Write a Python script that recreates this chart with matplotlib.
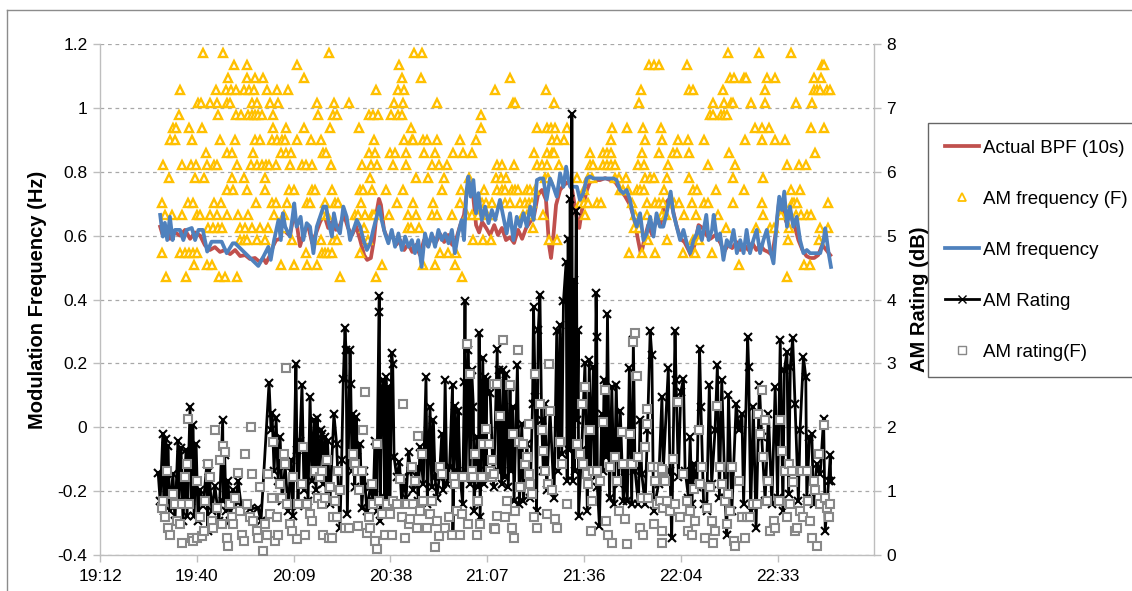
import matplotlib
matplotlib.use('Agg')
import matplotlib.pyplot as plt
from matplotlib.lines import Line2D

plt.rcParams['font.family'] = ['Liberation Sans', 'DejaVu Sans']

# ---------------- data (time in minutes after 19:12) ----------------
tick_labels = ["19:12", "19:40", "20:09", "20:38", "21:07", "21:36", "22:04", "22:33"]
tick_minutes = [0, 28.8, 57.6, 86.4, 115.2, 144.0, 172.8, 201.6]

# Actual BPF (10s) - red line
red_t = [17.9,18.7,19.6,20.8,22.3,23.8,25.3,26.8,28.3,29.8,31.2,32.7,34.2,35.7,37.2,38.7,40.2,41.7,43.2,44.6,
         46.1,47.6,48.5,49.4,50.6,51.5,52.4,53.6,54.5,55.4,56.5,57.7,58.6,59.5,60.7,61.9,63.1,64.3,65.5,
         66.7,67.9,69.0,70.2,71.4,72.6,73.8,75.0,76.2,77.4,78.6,79.5,80.6,81.5,82.4,83.0,83.6,84.5,85.7,86.9,
         88.1,89.3,90.5,91.7,92.9,94.0,95.2,96.4,97.6,98.8,100.0,101.2,102.4,103.6,104.8,105.9,107.1,108.3,109.2,110.1,
         111.0,111.9,112.8,113.7,114.9,116.1,117.3,
         118.4,119.6,120.8,122.0,123.2,124.4,125.6,126.8,128.0,129.2,130.3,131.5,132.7,133.6,134.2,134.8,135.7,136.9,138.1,139.3,
         140.5,141.7,142.6,143.4,144.9,145.8,147.3,148.8,150.3,151.8,153.3,154.8,156.2,157.7,158.9,160.1,161.0,161.9,163.1,164.3,
         165.5,166.7,
         167.9,169.1,170.3,171.5,172.7,173.9,175.1,175.9,176.9,178.1,179.3,180.4,181.6,183.1,184.6,185.7,186.9,188.1,189.4,190.5,
         191.7,192.9,194.1,195.3,196.4,197.6,198.8,200.0,201.2,202.1,203.0,204.2,205.4,206.6,207.8,209.0,210.2,211.3,212.5,213.7,
         214.9,216.1,217.3]
red_f = [0.628,0.60,0.624,0.59,0.61,0.60,0.618,0.59,0.61,0.60,0.57,0.555,0.564,0.549,0.555,0.542,0.555,0.536,0.539,0.527,
         0.53,0.517,0.53,0.514,0.539,0.567,0.586,0.59,0.633,0.61,0.60,0.665,0.633,0.567,0.61,0.633,0.577,0.608,0.643,
         0.665,0.624,0.643,0.618,0.633,0.665,0.624,0.602,0.63,0.586,0.539,0.524,0.53,0.586,0.68,0.715,0.696,0.618,0.586,0.602,
         0.571,0.586,0.555,0.574,0.549,0.571,0.539,0.586,0.567,0.60,0.58,0.605,0.58,0.602,0.571,0.586,0.63,0.665,0.743,0.759,
         0.727,0.633,0.61,0.643,0.624,0.602,0.633,
         0.602,0.624,0.586,0.595,0.577,0.618,0.59,0.624,0.643,0.665,0.727,0.743,0.712,0.571,0.53,0.586,0.696,0.743,0.759,0.768,
         0.743,0.665,0.624,0.68,0.743,0.768,0.774,0.774,0.78,0.774,0.768,0.743,0.724,0.696,0.655,0.586,0.539,0.586,0.633,0.602,
         0.649,0.633,
         0.696,0.712,0.687,0.633,0.59,0.58,0.555,0.536,0.571,0.633,0.624,0.602,0.59,0.602,0.577,0.549,0.571,0.561,0.58,0.555,
         0.571,0.555,0.577,0.555,0.571,0.555,0.549,0.539,0.618,0.712,0.68,0.643,0.665,0.633,0.586,0.555,0.536,0.53,0.53,0.539,
         0.571,0.555,0.539]

# AM frequency - blue line
blue_t = [17.9,18.7,19.3,20.0,20.8,21.6,22.3,23.8,24.8,25.8,27.3,28.3,29.3,30.6,31.2,31.9,33.2,36.2,37.7,39.5,
          40.2,47.1,48.6,50.1,50.8,51.8,53.1,53.8,54.4,55.1,56.5,57.3,57.8,58.5,59.7,60.5,61.5,62.5,63.5,64.5,
          65.5,66.5,
          67.3,67.9,69.0,69.6,70.4,71.4,72.4,73.4,74.4,75.4,76.4,77.4,78.4,79.4,80.4,81.3,82.3,83.1,83.8,84.8,
          85.8,86.8,87.8,88.8,89.8,90.8,91.8,92.8,93.7,94.7,95.7,96.7,97.7,98.7,99.7,100.7,101.7,102.7,103.7,104.7,
          105.6,106.6,107.6,108.3,109.1,109.6,110.3,111.1,111.9,112.6,113.6,114.6,115.6,116.6,117.6,
          119.0,120.0,121.0,122.0,123.0,124.0,125.0,126.0,127.0,128.0,129.0,130.0,130.9,131.9,132.9,133.9,134.9,135.9,136.9,137.9,
          138.7,139.4,139.9,141.9,142.8,143.8,144.8,145.8,146.8,148.8,150.8,152.8,153.7,154.7,155.7,156.7,157.7,158.7,159.7,160.7,
          161.7,162.7,163.7,164.7,165.6,166.6,
          167.6,168.6,169.8,170.6,171.6,172.6,173.6,174.6,175.6,176.6,177.6,178.1,179.1,180.4,181.1,182.1,182.6,183.6,184.5,185.5,
          186.5,187.5,188.5,189.5,190.5,191.5,192.4,193.4,194.4,195.4,196.4,197.4,198.4,199.4,200.4,201.4,202.1,202.9,203.6,204.4,
          205.3,206.3,207.3,208.3,209.3,210.3,211.3,214.3,215.3,215.8,216.8,217.5]
blue_f = [0.665,0.597,0.640,0.586,0.659,0.586,0.618,0.618,0.586,0.618,0.624,0.586,0.618,0.618,0.586,0.550,0.581,0.581,0.545,0.576,
          0.576,0.505,0.534,0.565,0.524,0.586,0.649,0.586,0.670,0.628,0.597,0.659,0.701,0.628,0.659,0.586,0.639,0.628,0.545,0.628,
          0.659,0.691,
          0.691,0.649,0.597,0.670,0.628,0.607,0.691,0.659,0.586,0.618,0.649,0.628,0.586,0.555,0.576,0.618,0.659,0.691,0.649,0.607,
          0.576,0.618,0.565,0.607,0.555,0.597,0.565,0.586,0.545,0.586,0.502,0.607,0.565,0.607,0.565,0.618,0.586,0.607,0.576,0.618,
          0.545,0.607,0.649,0.586,0.743,0.785,0.722,0.774,0.670,0.733,0.649,0.691,0.639,0.680,0.649,
          0.712,0.659,0.607,0.670,0.586,0.659,0.628,0.670,0.628,0.691,0.649,0.774,0.779,0.779,0.712,0.779,0.753,0.722,0.795,0.753,
          0.816,0.774,0.753,0.753,0.712,0.733,0.779,0.785,0.779,0.779,0.779,0.779,0.774,0.743,0.733,0.743,0.712,0.659,0.628,0.670,
          0.586,0.607,0.659,0.597,0.670,0.628,
          0.628,0.670,0.738,0.670,0.628,0.586,0.618,0.576,0.545,0.586,0.607,0.628,0.586,0.665,0.586,0.618,0.665,0.586,0.607,0.524,
          0.586,0.565,0.618,0.545,0.586,0.545,0.618,0.545,0.586,0.618,0.545,0.586,0.618,0.555,0.513,0.649,0.722,0.680,0.738,0.628,
          0.691,0.628,0.659,0.586,0.545,0.555,0.545,0.545,0.586,0.623,0.545,0.502]

# AM frequency (F) - triangles, one list of times per frequency level
tri_levels = [1.172, 1.133, 1.094, 1.055, 1.016, 0.977, 0.938, 0.898, 0.859, 0.820,
              0.781, 0.742, 0.703, 0.664, 0.625, 0.586, 0.547, 0.508, 0.469]
tri_times = [
    [30.7,36.7,68.2,93.5,95.7,187.0,196.1,205.6],
    [39.9,43.8,58.7,89.0,163.5,164.9,166.4,174.8,214.8,215.5],
    [38.2,43.7,46.1,48.4,60.7,89.8,95.5,122.0,187.5,188.7,191.5,192.3,198.4,200.7,212.5,214.5],
    [23.8,34.4,37.4,38.9,40.4,42.9,44.3,45.8,49.6,52.8,56.0,82.1,88.8,90.5,117.4,132.7,160.9,175.3,176.3,185.5,
     197.9,212.3,213.3,214.3,216.3,217.3],
    [29.3,30.0,32.7,34.7,37.7,38.7,45.3,46.8,50.6,53.1,64.7,69.6,74.2,87.5,90.3,100.2,122.8,123.5,135.2,160.4,
     182.5,185.7,187.7,188.3,193.7,197.9,207.1,212.0],
    [23.5,35.2,40.5,41.9,44.1,45.2,46.1,47.1,48.1,51.6,64.8,69.3,70.4,79.9,81.3,82.8,86.5,88.8,89.8,113.4,
     181.5,182.5,184.8,185.8,186.5],
    [21.8,22.6,26.5,30.4,51.6,55.3,60.7,68.5,77.1,92.6,113.4,130.0,133.1,134.1,135.4,138.9,152.3,156.8,161.5,166.8,
     194.9,197.1,199.2,211.6,215.3],
    [20.8,22.3,27.5,35.7,40.2,46.1,47.6,51.1,52.6,54.1,55.1,58.5,62.7,65.8,81.5,90.5,92.8,93.2,96.2,97.2,
     100.2,107.1,111.9,134.6,135.9,138.1,152.0,162.2,167.3,172.1,175.1,179.8,192.0,197.1,200.9,203.9],
    [31.5,37.7,39.2,45.6,53.8,55.3,56.8,66.3,67.3,79.9,81.8,86.3,87.8,91.0,96.5,99.7,105.1,107.9,110.6,129.0,
     133.1,134.4,135.1,145.8,149.8,151.0,152.0,161.2,166.2,170.6,171.6,175.3,187.3,212.8],
    [18.8,24.5,27.0,28.5,31.9,33.9,34.9,40.9,44.9,46.8,48.3,49.3,50.3,52.3,56.5,60.2,61.2,63.2,68.8,78.1,
     80.6,82.5,87.3,91.0,98.9,100.9,103.2,118.1,119.6,123.3,130.1,131.5,133.1,136.7,145.8,146.8,149.8,150.8,152.0,153.3,
     160.2,162.0,169.1,180.9,188.8,204.5,208.1,210.1],
    [20.5,28.3,31.0,39.2,42.7,49.1,80.4,94.0,97.7,102.4,109.8,117.9,119.3,120.7,132.4,133.4,142.0,145.3,146.3,153.3,
     154.3,156.5,162.2,163.7,164.7,168.8,175.4,188.3,197.4],
    [37.9,39.7,43.7,49.1,56.3,57.7,63.2,64.0,69.0,77.4,78.4,80.9,85.1,90.1,101.7,107.3,114.3,118.1,119.6,120.5,
     122.5,123.5,124.5,127.0,128.0,129.5,144.1,154.8,155.7,157.2,159.7,160.7,161.9,167.9,176.4,177.6,183.3,191.7,205.6,208.3],
    [18.4,26.3,27.6,33.9,35.9,46.4,51.3,52.3,55.7,61.5,62.5,67.0,69.9,70.9,77.6,88.3,93.2,99.2,107.1,113.6,
     114.9,116.7,120.5,122.0,125.0,126.5,127.5,128.5,142.9,144.1,145.3,147.8,149.0,158.2,162.7,165.2,166.2,167.4,170.8,172.4,
     176.1,179.8,181.0,188.3,196.9,205.9,206.6,207.3,216.7],
    [19.3,21.3,24.3,28.8,29.8,32.7,34.7,37.7,41.2,44.1,51.8,54.8,66.5,67.6,75.9,76.9,78.9,80.9,81.5,86.1,
     91.5,94.0,98.7,100.2,104.7,109.1,110.6,112.6,115.1,116.6,126.0,127.2,128.2,131.8,144.3,159.2,162.7,167.2,168.4,173.8,
     177.4,183.8,197.2,202.7,207.0,208.6,210.3,211.5],
    [32.2,33.7,35.2,36.2,41.7,43.2,45.2,47.6,50.1,54.8,78.7,91.5,92.5,94.9,128.7,159.0,160.4,186.2,195.2,199.4,
     200.6,205.1,214.3,216.7],
    [41.7,42.7,43.7,46.6,49.1,57.1,65.7,69.4,70.6,79.6,110.9,113.9,116.4,133.7,135.9,163.2,168.7,176.4,178.1,204.7,213.8],
    [18.4,23.8,25.3,26.6,27.8,29.0,61.2,66.0,67.0,67.9,69.0,77.4,101.2,103.5,105.9,157.4,161.2,165.2,173.6,176.9,182.0],
    [28.0,31.8,33.4,53.8,57.7,61.5,64.7,83.8,96.0,99.7,105.7,190.2,209.6,211.3],
    [19.6,25.5,35.4,37.2,40.9,71.4,82.1,107.6,204.4],
]

# AM Rating - black line (right axis, dB)
rat_t = [17.3,17.9,18.7,19.0,19.6,19.9,20.2,20.8,21.7,22.3,
         23.2,23.5,24.1,24.7,25.6,25.9,26.8,27.1,27.7,28.0,
         28.6,29.2,29.8,30.7,31.8,32.0,32.4,33.3,34.2,35.4,
         36.5,36.7,37.1,37.5,38.1,38.7,39.6,40.2,41.1,42.0,
         44.6,47.0,47.9,50.3,50.9,51.2,51.8,52.4,53.0,53.6,
         54.2,55.1,56.0,56.8,57.4,58.3,58.6,58.9,59.5,60.1,
         60.7,61.3,61.9,62.5,63.1,63.7,64.3,64.6,65.2,65.8,
         66.0,66.5,67.0,67.3,67.7,68.4,69.6,70.4,71.4,71.9,
         72.4,72.9,73.2,73.6,74.4,74.6,75.0,75.4,75.8,76.2,
         76.6,77.4,77.9,78.6,79.4,80.4,81.3,81.8,82.3,83.0,
         83.1,83.4,83.8,84.3,84.7,85.1,85.5,85.8,86.3,86.8,
         87.1,87.5,88.3,89.1,89.8,90.3,91.1,91.8,92.4,93.2,
         94.2,94.7,95.2,96.2,97.0,97.4,98.2,98.7,99.2,99.7,
         100.2,101.0,101.7,102.2,102.7,103.2,104.0,104.9,105.0,105.6,
         106.3,106.6,107.1,107.9,108.4,108.6,108.9,109.6,110.1,110.6,
         111.1,111.3,112.1,112.6,112.8,113.1,113.9,114.3,114.6,114.9,
         115.1,
         116.1,117.1,118.2,118.5,118.8,119.5,120.0,120.4,120.8,121.5,
         122.0,122.4,122.8,123.2,124.2,124.8,125.5,126.0,127.0,128.0,
         128.7,129.0,129.5,129.9,130.4,130.9,131.4,131.9,132.4,132.9,
         133.9,135.1,135.9,136.4,136.9,137.4,137.9,138.7,139.0,139.3,
         139.6,139.9,140.2,140.4,140.6,140.9,141.2,141.7,142.0,142.3,
         142.4,143.3,144.3,145.0,145.6,146.0,146.8,147.2,147.6,147.8,
         148.0,148.6,149.3,149.6,150.0,150.6,151.0,151.6,152.3,153.0,
         153.6,154.3,154.8,155.7,156.2,156.9,157.5,158.2,158.7,159.2,
         160.2,160.7,161.2,162.2,162.9,163.7,164.2,164.7,166.2,167.2,
         167.6,
         169.1,169.6,170.1,171.1,171.4,172.1,172.8,173.6,174.1,175.1,
         175.6,176.1,176.6,177.6,178.4,178.8,179.6,180.5,181.3,182.0,
         183.0,183.7,184.3,185.0,186.0,186.5,187.0,188.0,189.3,190.0,
         191.0,191.5,192.7,193.0,193.6,194.4,195.2,196.2,196.9,197.9,
         198.9,199.9,200.9,201.6,202.4,203.2,203.6,204.4,204.9,205.4,
         206.1,206.8,207.8,208.3,209.3,210.0,210.3,211.1,211.8,212.3,
         213.3,214.3,215.3,215.8,216.8,217.3,217.4]
rat_v = [1.29,0.85,1.90,0.69,1.82,0.85,1.71,0.69,1.27,0.53,
         1.79,0.85,1.68,0.53,1.64,0.61,2.31,0.85,2.03,0.61,
         1.74,0.53,1.01,0.77,1.43,0.38,1.32,0.69,1.08,0.53,
         2.11,0.85,1.56,0.69,1.16,0.53,1.01,0.77,1.16,0.77,
         0.72,0.74,0.53,2.69,1.95,2.22,1.32,2.14,1.16,1.84,
         0.85,1.40,0.69,1.48,0.61,2.99,1.64,0.77,1.79,2.66,
         1.01,1.64,0.85,2.47,1.16,2.11,1.01,2.15,1.32,1.95,
         1.90,1.11,1.84,0.90,1.79,0.80,2.21,1.74,0.43,1.48,
         2.76,3.55,3.21,0.64,3.21,2.68,1.32,2.21,1.06,2.16,
         1.53,1.74,0.74,1.32,0.69,1.06,0.85,1.79,0.69,3.81,
         4.05,0.53,2.58,2.74,0.90,2.79,0.80,2.63,0.85,3.16,
         2.99,1.53,1.22,1.45,0.80,1.22,0.90,1.61,1.32,1.01,
         1.37,0.85,1.69,1.11,2.78,0.80,2.32,1.06,2.11,1.22,
         0.90,1.22,1.90,1.01,2.74,1.11,1.37,2.66,0.32,2.34,
         1.32,2.26,1.27,0.80,2.71,3.97,1.32,3.21,1.11,2.89,
         2.32,0.69,1.84,1.06,3.47,0.59,3.08,1.11,2.79,1.32,
         2.74,
         2.53,1.06,3.23,1.32,2.89,1.11,2.89,1.22,2.84,1.06,
         2.63,1.32,2.32,0.85,2.97,0.80,2.05,0.85,1.74,0.90,
         2.37,3.89,2.47,0.69,3.52,4.07,2.11,1.32,2.37,1.01,
         2.26,0.90,3.50,1.32,3.60,1.58,3.97,4.59,1.16,4.94,
         1.64,5.57,2.74,6.90,1.16,4.31,1.32,5.38,2.11,3.52,
         0.61,1.64,3.00,0.69,3.05,1.32,2.95,1.22,4.10,3.42,
         1.06,0.46,2.21,1.32,2.74,1.53,3.78,0.90,2.63,0.80,
         2.66,1.11,2.26,0.85,1.32,0.85,2.92,0.80,3.36,1.32,
         0.80,2.11,1.27,0.80,1.95,3.50,3.13,0.69,1.11,2.47,
         1.32,
         2.92,1.32,0.27,3.50,2.74,1.22,2.55,2.76,1.32,0.90,
         1.84,0.80,1.43,1.06,3.23,2.32,0.80,0.69,2.66,1.11,
         1.95,2.97,0.90,2.74,0.90,0.32,2.50,0.69,2.37,1.95,
         2.21,0.80,3.42,2.95,0.69,2.32,0.43,2.66,1.84,0.85,
         2.21,0.80,2.63,0.90,3.36,0.69,2.89,3.18,0.95,2.95,
         3.39,2.37,0.85,1.95,3.10,2.79,0.90,1.84,1.90,0.80,
         1.43,1.27,2.13,0.38,1.16,1.56,1.16]

# AM rating(F) - grey squares (right axis, dB)
sq_t = [18.4,18.8,19.3,19.8,20.3,20.8,21.8,22.3,22.8,23.8, 24.3,24.5,25.3,25.8,26.3,26.6,27.3,27.8,28.8,28.9,
        29.8,30.3,30.8,31.2,32.2,32.7,33.2,33.7,34.2,34.7, 35.7,36.2,36.7,37.2,37.7,38.2,38.7,39.2,39.7,40.2,
        41.2,41.7,42.2,42.7,43.2,43.7,44.6,44.9,45.1,45.6, 46.6,47.1,47.6,48.6,49.1,49.6,50.1,50.6,51.1,51.6,
        52.1,52.6,53.1,53.6,54.1,54.6,55.1,55.3,55.6,56.5, 57.0,57.5,58.5,59.0,60.0,60.5,61.0,61.5,62.5,63.0,
        64.0,65.0,65.5,66.0,
        66.1,66.5,67.0,67.5,68.0,68.4,68.9,69.4,69.9,70.4, 70.9,71.4,72.9,74.2,75.4,75.9,76.4,76.9,77.2,77.9,
        78.4,78.9,79.4,79.9,80.4,80.8,81.3,81.8,82.3,82.5, 83.1,83.8,84.8,85.3,86.3,86.8,87.3,88.3,89.3,89.8,
        90.1,90.8,91.3,91.8,92.3,92.8,93.2,93.7,94.2,94.5, 95.2,95.7,96.2,97.2,98.2,98.7,99.7,100.2,101.0,101.2,
        101.7,102.7,103.7,104.7,105.2,105.6,106.1,107.1,107.6,107.9, 109.1,109.6,110.1,110.6,111.1,111.6,112.1,112.6,113.1,113.6,
        114.1,114.8,115.6,116.1,116.6,117.1,117.3,
        116.7,117.2,117.5,118.0,118.2,119.0,120.0,120.5,121.0,122.0, 122.5,123.0,123.5,123.2,124.5,124.8,125.0,126.0,126.5,127.0,
        127.5,127.7,128.0,128.5,129.0,129.5,129.9,130.9,131.4,131.9, 132.4,132.9,133.4,133.7,133.9,134.4,135.4,135.9,136.9,137.4,
        138.9,141.8,142.8,143.3,143.8,144.3,144.8,145.3,145.8,146.0, 146.3,146.8,147.8,148.8,149.8,150.3,150.5,151.3,151.8,152.3,
        153.3,153.8,154.3,155.2,155.7,156.2,156.7,157.7,158.2,158.7, 159.2,159.7,160.2,160.7,161.2,161.7,162.2,162.7,162.9,163.2,
        164.2,164.7,165.2,165.7,166.1,166.6,167.2,167.6,
        167.2,167.2,167.6,168.1,168.6,169.6,170.6,171.1,172.1,172.6, 173.6,174.6,175.1,175.6,176.1,176.6,177.1,178.1,178.6,179.1,
        180.1,180.5,181.5,182.0,182.5,183.0,183.7,184.5,185.0,186.0, 186.5,187.0,187.5,188.0,188.5,189.0,190.0,191.0,192.0,192.5,
        193.4,194.4,195.4,195.9,196.4,196.9,197.4,197.9,198.4,198.9, 199.4,200.4,200.9,201.9,202.4,202.9,203.9,204.4,204.9,205.4,
        205.8,206.3,206.8,207.3,208.3,208.8,209.3,210.3,210.8,211.3, 211.8,212.3,212.8,213.3,213.8,214.3,215.3,215.8,216.3,216.8,
        217.3]
sq_v = [0.74,0.85,0.59,1.32,0.43,0.32,0.95,0.80,0.53,0.48, 0.80,0.19,1.22,1.43,2.13,0.80,0.27,0.22,0.27,1.16,
        0.59,0.30,0.38,0.85,1.43,1.22,0.53,0.43,1.96,0.74, 1.48,0.48,1.71,1.61,0.27,0.14,0.80,0.59,0.48,0.90,
        1.29,0.69,0.32,0.22,1.58,0.80,0.59,2.00,1.27,0.53, 0.38,0.27,1.06,0.06,0.48,0.32,1.27,0.64,0.90,1.77,
        0.22,0.59,0.32,1.11,0.90,1.58,1.43,2.93,0.80,0.48, 0.38,1.22,0.25,0.80,1.11,1.69,0.32,0.80,0.64,0.53,
        1.32,0.90,1.22,0.80,
        1.32,0.32,0.90,1.48,0.27,1.06,0.27,0.59,0.85,0.59, 1.32,1.01,0.43,0.43,1.58,1.43,1.32,0.46,1.01,1.32,
        1.95,2.55,0.35,0.59,0.43,1.11,0.80,0.22,1.74,0.10, 0.85,0.64,0.32,0.80,0.64,0.32,0.85,0.80,1.19,0.59,
        2.37,0.27,0.80,0.48,0.56,1.37,0.80,1.16,0.43,1.86, 0.69,1.58,0.85,0.43,0.64,0.85,0.13,0.53,0.30,1.37,
        1.27,0.43,0.59,0.32,1.22,1.11,0.69,0.32,0.64,1.22, 3.30,0.48,2.84,1.32,1.22,1.58,0.32,0.85,0.48,1.22,
        1.74,1.97,1.74,1.32,1.22,2.68,0.43,
        1.48,1.27,0.40,0.61,2.68,2.18,3.36,0.59,0.85,2.66, 0.43,1.90,0.69,0.27,3.21,1.77,1.06,1.74,1.43,1.53,
        2.05,1.27,1.11,0.95,0.59,2.84,0.43,2.37,1.95,1.63, 1.32,0.64,1.11,2.99,2.26,1.01,0.56,0.43,1.77,1.43,
        0.80,1.74,1.58,2.37,1.43,2.63,1.27,1.11,1.95,0.38, 0.85,1.32,1.32,1.16,2.08,2.58,0.53,0.32,1.37,0.19,
        1.53,1.16,0.69,1.92,1.43,0.56,0.17,1.90,1.43,3.34, 3.47,2.80,1.53,0.43,0.90,0.32,1.69,2.29,2.05,0.90,
        1.37,0.48,1.16,0.80,1.37,0.85,0.19,1.32,
        1.35,0.38,0.74,1.16,0.85,0.69,1.50,0.80,2.39,0.59, 1.27,0.85,0.38,0.69,0.32,1.03,0.53,1.95,1.11,1.37,
        0.27,0.74,1.06,0.53,0.19,0.38,2.34,1.37,1.11,0.85, 0.48,0.95,0.69,1.37,0.22,0.14,1.16,0.59,0.27,0.59,
        0.59,0.80,0.80,2.21,1.90,2.58,1.53,2.11,0.85,1.16, 0.38,0.53,0.43,0.85,2.11,1.63,1.32,0.59,1.43,0.80,
        1.32,1.14,0.38,0.43,0.69,1.32,0.59,1.32,0.85,0.53, 0.27,1.16,1.01,0.14,1.58,0.80,2.03,0.90,0.74,0.59,
        0.80]

# ---------------- figure ----------------
W, H = 1132, 591
fig = plt.figure(figsize=(W / 100, H / 100), dpi=100)
fig.patch.set_facecolor('white')

# outer chart-area border (left and top edges visible)
fig.add_artist(Line2D([7 / W, 7 / W], [0, 1 - 10 / H], transform=fig.transFigure, color='#8c8c8c', lw=1.0))
fig.add_artist(Line2D([7 / W, 1], [1 - 10 / H, 1 - 10 / H], transform=fig.transFigure, color='#8c8c8c', lw=1.0))

L, R, T, B = 100, 874, 44, 555
ax = fig.add_axes([L / W, 1 - B / H, (R - L) / W, (B - T) / H])
ax2 = ax.twinx()

axis_col = '#BEBEBE'
ax.set_xlim(0, 230.3)
ax.set_ylim(-0.4, 1.2)
ax2.set_ylim(0, 8)

ax.set_yticks([-0.4, -0.2, 0, 0.2, 0.4, 0.6, 0.8, 1.0, 1.2])
ax.set_yticklabels(['-0.4', '-0.2', '0', '0.2', '0.4', '0.6', '0.8', '1', '1.2'])
ax2.set_yticks(range(0, 9))
ax.set_xticks(tick_minutes)
ax.set_xticklabels(tick_labels)

ax.yaxis.grid(True, linestyle=(0, (3, 3)), color='#A8A8A8', linewidth=0.9)
ax.set_axisbelow(True)

for a in (ax, ax2):
    for s in a.spines.values():
        s.set_color(axis_col)
        s.set_linewidth(1.0)
    a.spines['top'].set_visible(False)
ax.spines['right'].set_visible(False)
ax2.spines['left'].set_visible(False)
ax2.spines['bottom'].set_visible(False)

tick_fs = 12.5
ax.tick_params(axis='y', direction='out', length=5, width=1, color=axis_col, labelsize=tick_fs, pad=4)
ax.tick_params(axis='x', direction='out', length=5, width=1, color=axis_col, labelsize=tick_fs, pad=5)
ax2.tick_params(axis='y', direction='out', length=5, width=1, color=axis_col, labelsize=tick_fs, pad=4)

ax.set_ylabel('Modulation Frequency (Hz)', fontsize=14.5, fontweight='bold', labelpad=8)
ax2.set_ylabel('AM Rating (dB)', fontsize=14.5, fontweight='bold', labelpad=10)

# series
red_col, blue_col, yel_col, grey_col = '#C0504D', '#4F81BD', '#FFC000', '#888888'
n = min(len(red_t), len(red_f))
ax.plot(red_t[:n], red_f[:n], color=red_col, lw=2.7, zorder=2)

tri_t, tri_f = [], []
for lev, times in zip(tri_levels, tri_times):
    tri_t.extend(times)
    tri_f.extend([lev] * len(times))
ax.plot(tri_t, tri_f, ls='none', marker='^', ms=6, mfc='white', mec=yel_col, mew=1.7, zorder=3)

n = min(len(blue_t), len(blue_f))
ax.plot(blue_t[:n], blue_f[:n], color=blue_col, lw=2.7, zorder=4)

n = min(len(rat_t), len(rat_v))
ax2.plot(rat_t[:n], rat_v[:n], color='black', lw=2.0, marker='x', ms=6, mew=1.5, zorder=2)
n = min(len(sq_t), len(sq_v))
ax2.plot(sq_t[:n], sq_v[:n], ls='none', marker='s', ms=6.3, mfc='white', mec=grey_col, mew=1.5, zorder=3)

# legend
handles = [
    Line2D([], [], color=red_col, lw=2.7),
    Line2D([], [], ls='none', marker='^', ms=5.2, mfc='white', mec=yel_col, mew=1.3),
    Line2D([], [], color=blue_col, lw=2.7),
    Line2D([], [], color='black', lw=2.0, marker='x', ms=6, mew=1.0),
    Line2D([], [], ls='none', marker='s', ms=5.5, mfc='white', mec=grey_col, mew=1.0),
]
labels = ['Actual BPF (10s)', 'AM frequency (F)', 'AM frequency', 'AM Rating', 'AM rating(F)']
leg = fig.legend(handles, labels, loc='upper left', bbox_to_anchor=(928 / W, 1 - 123 / H),
                 bbox_transform=fig.transFigure, fontsize=13.5, frameon=True, fancybox=False,
                 edgecolor='#404040', borderaxespad=0, borderpad=0.9, labelspacing=1.8,
                 handlelength=1.8, handletextpad=0.25, numpoints=1)
leg.get_frame().set_linewidth(1.0)

fig.savefig('out.png', dpi=100, facecolor='white')
